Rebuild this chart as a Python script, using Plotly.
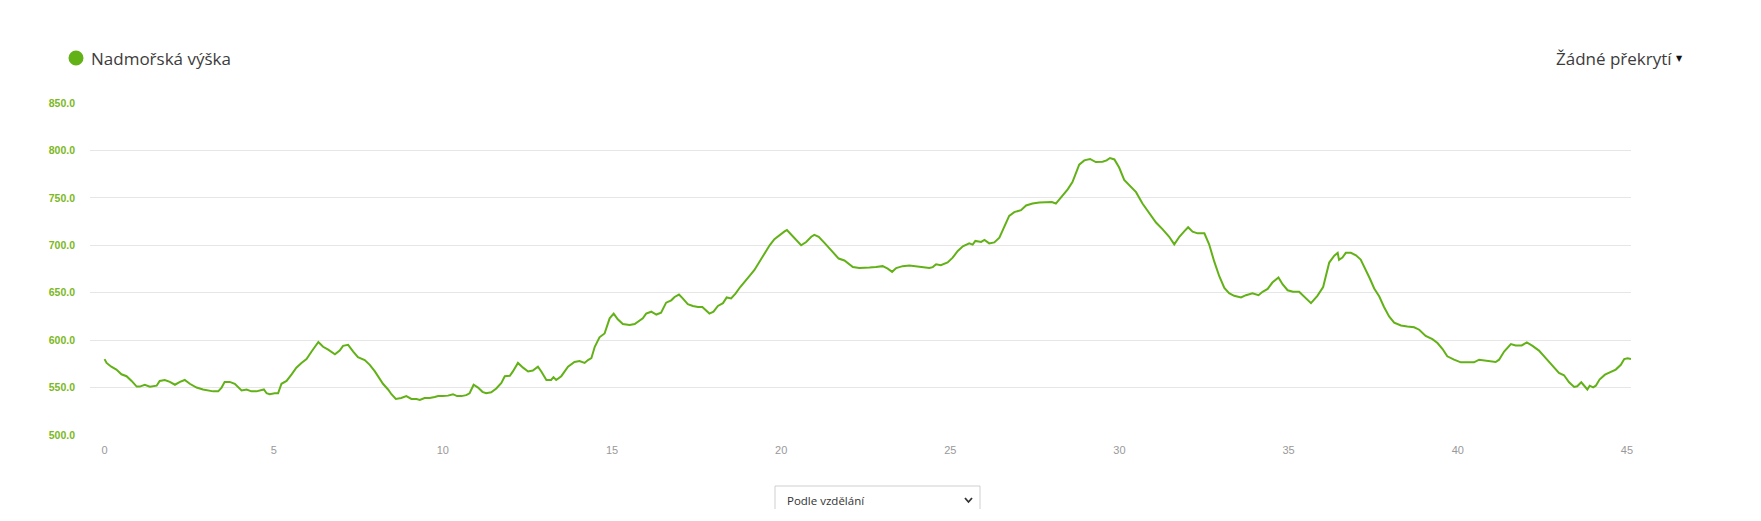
import plotly.graph_objects as go

# ---- data: distance (km) and elevation (m) ----
distance_km = [
    0.00, 0.06, 0.20, 0.35, 0.50, 0.65, 0.80, 0.95, 1.04, 1.19, 1.34, 1.54, 1.63, 1.78, 1.93, 2.08,
    2.23, 2.37, 2.52, 2.72, 2.91, 3.06, 3.21, 3.36, 3.46, 3.55, 3.70, 3.85, 3.95, 4.05, 4.20, 4.34,
    4.49, 4.64, 4.71, 4.79, 4.88, 5.03, 5.13, 5.23, 5.38, 5.53, 5.67, 5.82, 5.97, 6.12, 6.27, 6.32,
    6.46, 6.61, 6.81, 6.95, 7.05, 7.20, 7.35, 7.49, 7.69, 7.84, 7.99, 8.13, 8.23, 8.38, 8.48, 8.61,
    8.77, 8.92, 9.07, 9.22, 9.32, 9.46, 9.61, 9.76, 9.86, 10.00, 10.15, 10.30, 10.42, 10.55, 10.69,
    10.79, 10.91, 11.04, 11.17, 11.28, 11.43, 11.58, 11.73, 11.83, 11.98, 12.07, 12.22, 12.37, 12.52,
    12.66, 12.81, 12.91, 13.06, 13.20, 13.27, 13.35, 13.50, 13.70, 13.89, 14.04, 14.19, 14.29, 14.39,
    14.49, 14.63, 14.78, 14.93, 15.05, 15.17, 15.32, 15.52, 15.67, 15.81, 15.91, 16.01, 16.16, 16.31,
    16.45, 16.60, 16.75, 16.85, 16.98, 17.09, 17.24, 17.39, 17.54, 17.67, 17.78, 17.88, 18.00, 18.13,
    18.28, 18.39, 18.52, 18.65, 18.79, 18.92, 19.06, 19.21, 19.36, 19.51, 19.66, 19.80, 19.95, 20.10,
    20.17, 20.30, 20.44, 20.59, 20.74, 20.89, 20.98, 21.11, 21.28, 21.43, 21.58, 21.70, 21.87, 22.02,
    22.12, 22.31, 22.51, 22.61, 22.80, 23.00, 23.15, 23.28, 23.40, 23.59, 23.79, 23.99, 24.18, 24.38,
    24.48, 24.58, 24.72, 24.92, 25.07, 25.22, 25.37, 25.56, 25.66, 25.74, 25.91, 26.01, 26.15, 26.30,
    26.45, 26.60, 26.74, 26.89, 27.09, 27.24, 27.43, 27.63, 27.83, 28.00, 28.12, 28.27, 28.47, 28.61,
    28.81, 28.96, 29.13, 29.30, 29.50, 29.62, 29.72, 29.85, 29.99, 30.14, 30.29, 30.49, 30.68, 30.88,
    31.08, 31.27, 31.47, 31.62, 31.77, 31.92, 32.03, 32.16, 32.31, 32.51, 32.65, 32.80, 32.95, 33.10,
    33.24, 33.39, 33.59, 33.74, 33.93, 34.11, 34.23, 34.38, 34.52, 34.70, 34.82, 34.97, 35.13, 35.31,
    35.46, 35.66, 35.85, 36.02, 36.20, 36.35, 36.45, 36.49, 36.59, 36.69, 36.84, 36.99, 37.13, 37.28,
    37.40, 37.53, 37.68, 37.82, 37.97, 38.12, 38.32, 38.51, 38.71, 38.86, 39.05, 39.25, 39.40, 39.55,
    39.69, 39.89, 40.09, 40.29, 40.48, 40.63, 40.78, 40.92, 41.12, 41.22, 41.37, 41.57, 41.71, 41.89,
    42.04, 42.21, 42.40, 42.60, 42.80, 42.99, 43.14, 43.29, 43.44, 43.53, 43.65, 43.76, 43.83, 43.90,
    44.00, 44.08, 44.19, 44.35, 44.52, 44.67, 44.82, 44.92, 45.02, 45.12,
]
elevation_m = [
    580, 576, 572, 569, 564, 562, 557, 551, 551, 553, 551, 552, 557, 558, 556, 553,
    556, 558, 554, 550, 548, 547, 546, 546, 550, 556, 556, 554, 550, 547, 548, 546,
    546, 547, 548, 544, 543, 544, 544, 554, 557, 564, 571, 576, 580, 588, 595, 598,
    593, 590, 585, 589, 594, 595, 588, 582, 579, 574, 567, 560, 554, 548, 543, 538,
    539, 541, 538, 538, 537, 539, 539, 540, 541, 541, 541.5, 543, 541, 541, 542,
    544, 553, 550, 545.5, 544, 545, 549, 555, 562, 562.5, 567, 576, 571, 567,
    568, 572, 567, 558, 558, 561, 558, 562, 572, 577, 578, 576, 579, 581,
    593, 603, 607, 623, 628, 622, 617, 616, 617, 620, 623, 628, 630, 627,
    629, 639.5, 642, 645.5, 648, 644, 638, 636, 635, 635, 631.5, 628, 630, 636,
    639, 645, 644, 649, 656, 662, 667.5, 674, 683, 692, 700, 706.5, 711, 714.7,
    716, 711, 705, 700, 703.5, 709, 711, 709, 702.5, 696.5, 690, 686, 684, 680,
    677, 676, 676, 676.5, 677, 678, 675.4, 672, 676, 678, 678.6, 677.5, 676.5, 676,
    677, 680, 679, 682, 687, 694, 699, 702, 700.7, 704.6, 703.5, 705.6, 702, 703,
    708, 720, 731, 735, 737, 742, 744, 745, 745.6, 745.6, 744, 750, 759, 766.7,
    785, 789.5, 791, 787.7, 788, 789.5, 792, 790.5, 782, 769, 763, 756, 744, 734,
    724, 717, 709, 701, 709, 715, 719, 714.4, 712.6, 712.6, 701, 683, 667.4, 655,
    649.5, 646.7, 645, 647.4, 649.5, 647.4, 651, 654, 660.7, 666, 659, 652.6, 651, 651,
    645.6, 639, 646.7, 656, 681.8, 689, 692, 684.6, 687, 692, 692, 689.5, 685, 674.4,
    665, 654.5, 646, 635, 625, 618.5, 615.4, 614.3, 613.6, 611, 604.5, 601, 597, 590.6,
    583, 579.4, 576.6, 576.6, 576.6, 579.4, 578.7, 577.6, 577, 579.4, 588, 595.8, 594.4, 594.4,
    597.6, 594, 589, 581, 573, 565.4, 563, 555.6, 550.7, 551.4, 555.6, 551.4, 548, 552,
    550.3, 552, 558.4, 563.6, 566.4, 569, 574, 580, 581, 580,
]
y_ticks = [500, 550, 600, 650, 700, 750, 800, 850]
x_ticks = [0, 5, 10, 15, 20, 25, 30, 35, 40, 45]
series_name = "Nadmořská výška"
overlay_label = "Žádné překrytí"
select_label = "Podle vzdělání"

# ---- layout geometry (page pixels; the page body has an 8px margin) ----
OFF = 8
PAGE_W, PAGE_H = 1761, 521
W, H = PAGE_W - 2 * OFF, PAGE_H - 2 * OFF
PL, PR, PT, PB = 90, 1631, 103, 435          # plot box in page pixels
L, R, T, B = PL - OFF, (OFF + W) - PR, PT - OFF, (OFF + H) - PB
PW, PH = PR - PL, PB - PT
GREEN = "#62b117"


def px(X):
    return (X - PL) / PW


def py(Y):
    return (PB - Y) / PH


fig = go.Figure()
fig.add_trace(go.Scatter(
    x=distance_km, y=elevation_m, mode="lines", name=series_name,
    line=dict(color=GREEN, width=2), showlegend=False,
    hovertemplate="%{x:.2f} km<br>%{y:.1f} m<extra></extra>",
))

fig.update_layout(
    width=W, height=H,
    margin=dict(l=L, r=R, t=T, b=B),
    paper_bgcolor="white", plot_bgcolor="white",
    showlegend=False,
    xaxis=dict(
        range=[-0.43, 45.12], tickmode="array", tickvals=x_ticks,
        showgrid=False, zeroline=False, showline=False, ticks="",
        tickfont=dict(family="Liberation Sans, Arial", size=11, color="#999999"),
        ticklabelstandoff=7, fixedrange=True,
    ),
    yaxis=dict(
        range=[500, 850], tickmode="array", tickvals=y_ticks, tickformat=".1f",
        showgrid=True, gridcolor="#e6e6e6", gridwidth=1,
        zeroline=False, showline=False, ticks="",
        tickfont=dict(family="Liberation Sans, Arial", size=10.5, color="#7cb822",
                      weight="bold"),
        ticklabelstandoff=14, fixedrange=True,
    ),
)

# legend-like item (top-left)
r = 7.5
fig.add_shape(type="circle", xref="paper", yref="paper",
              x0=px(76 - r), x1=px(76 + r), y0=py(58 + r), y1=py(58 - r),
              fillcolor=GREEN, line=dict(width=0))
fig.add_annotation(text=series_name, xref="paper", yref="paper",
                   x=px(89), y=py(58), xanchor="left", yanchor="middle",
                   showarrow=False,
                   font=dict(family="Open Sans", size=17, color="#3c3c3c"))

# top-right overlay selector
fig.add_annotation(text=overlay_label, xref="paper", yref="paper",
                   x=px(1554), y=py(58), xanchor="left", yanchor="middle",
                   showarrow=False,
                   font=dict(family="Open Sans", size=17, color="#3c3c3c"))
fig.add_annotation(text="▼", xref="paper", yref="paper",
                   x=px(1679), y=py(59), xanchor="center", yanchor="middle",
                   showarrow=False,
                   font=dict(family="DejaVu Sans", size=8, color="#111111"))

# bottom dropdown box (clipped at the bottom)
x0, x1, y0, y1 = px(775), px(980), py(509), py(486)
fig.add_shape(type="path", xref="paper", yref="paper",
              path=f"M {x0},{y0} L {x0},{y1} L {x1},{y1} L {x1},{y0}",
              line=dict(color="#cfcfcf", width=1))
fig.add_annotation(text=select_label, xref="paper", yref="paper",
                   x=px(785), y=py(500), xanchor="left", yanchor="middle",
                   showarrow=False,
                   font=dict(family="Open Sans", size=11.5, color="#333333"))
fig.add_shape(type="path", xref="paper", yref="paper",
              path=f"M {px(965)},{py(498)} L {px(968.5)},{py(502)} L {px(972)},{py(498)}",
              line=dict(color="#333333", width=1.8))

fig.write_html("out.html", config={"displayModeBar": False})
